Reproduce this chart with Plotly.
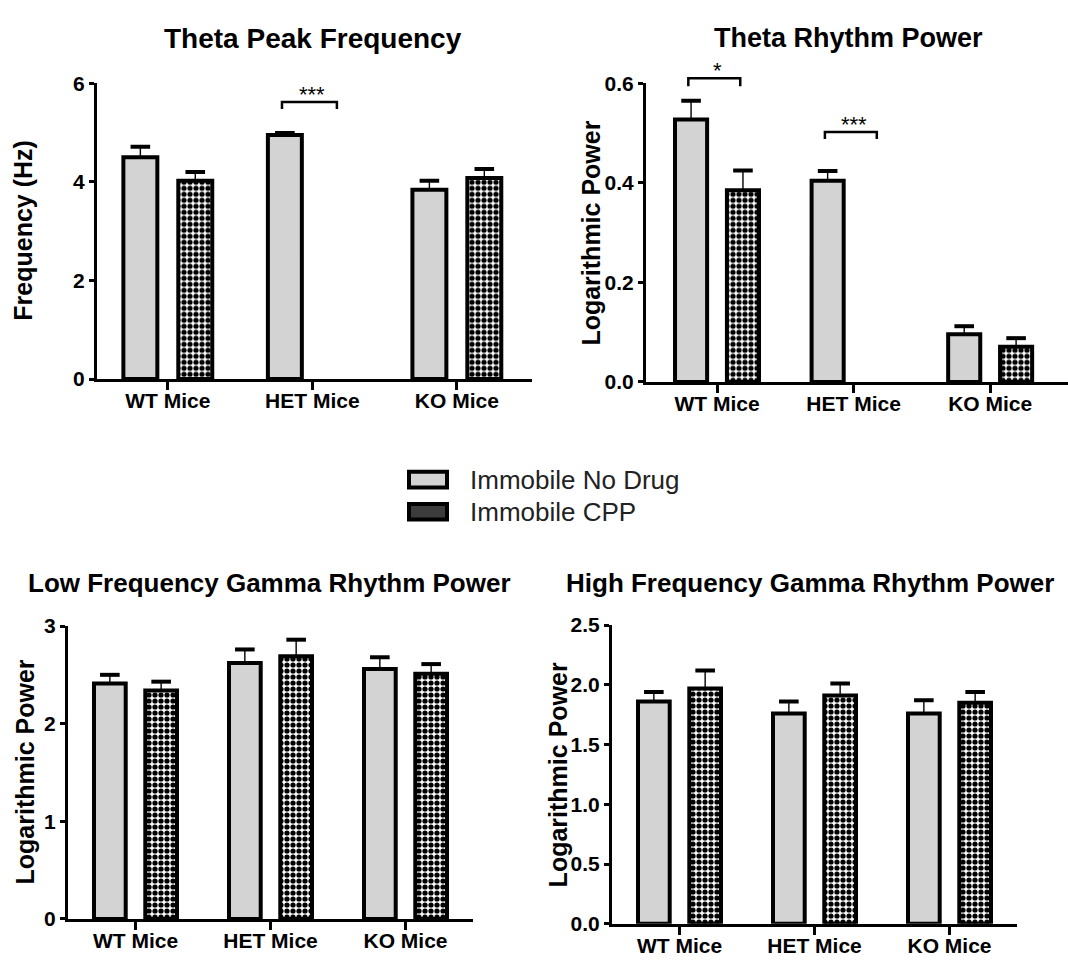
import plotly.graph_objects as go

# ---- data -------------------------------------------------------------
groups = ["WT Mice", "HET Mice", "KO Mice"]
series_names = ["Immobile No Drug", "Immobile CPP"]

# Theta peak frequency (Hz)
theta_freq_nodrug = [4.50, 4.95, 3.84]
theta_freq_nodrug_sem = [0.21, 0.04, 0.18]
theta_freq_cpp = [4.02, None, 4.08]
theta_freq_cpp_sem = [0.18, None, 0.18]

# Theta rhythm power (log)
theta_pow_nodrug = [0.527, 0.404, 0.096]
theta_pow_nodrug_sem = [0.038, 0.020, 0.016]
theta_pow_cpp = [0.385, None, 0.071]
theta_pow_cpp_sem = [0.040, None, 0.017]

# Low frequency gamma power (log)
lgamma_nodrug = [2.41, 2.62, 2.56]
lgamma_nodrug_sem = [0.09, 0.14, 0.12]
lgamma_cpp = [2.34, 2.69, 2.51]
lgamma_cpp_sem = [0.09, 0.17, 0.10]

# High frequency gamma power (log)
hgamma_nodrug = [1.86, 1.76, 1.76]
hgamma_nodrug_sem = [0.08, 0.10, 0.11]
hgamma_cpp = [1.97, 1.91, 1.85]
hgamma_cpp_sem = [0.15, 0.10, 0.09]

# significance brackets: (panel, group, bracket height, leg drop, label)
significance = [
    (0, 1, 5.62, 0.14, "***"),
    (1, 0, 0.610, 0.016, "*"),
    (1, 1, 0.502, 0.014, "***"),
]

# ---- styling ----------------------------------------------------------
W, H = 1068, 966
FONT = "Liberation Sans, Arial, sans-serif"
GRAY = "#d3d3d3"
OFFSET = 0.19     # bar centre offset from group centre
BAR_W = 0.235     # bar width in group units
BRACKET_L, BRACKET_R = -0.21, 0.17


def px_x(p):
    return p / W


def px_y(p):
    return 1 - p / H


panels = [
    dict(title="Theta Peak Frequency", ytitle="Frequency (Hz)", tsize=28,
         nd=theta_freq_nodrug, nd_err=theta_freq_nodrug_sem,
         cpp=theta_freq_cpp, cpp_err=theta_freq_cpp_sem,
         yrange=[0, 6], ytickvals=[0, 2, 4, 6], yfmt="{:.0f}",
         xdom=[97, 532], ydom=[376, 73], xrange=[-0.49, 2.52],
         title_xy=(313, 27), ytitle_xy=(23, 224)),
    dict(title="Theta Rhythm Power", ytitle="Logarithmic Power", tsize=27,
         nd=theta_pow_nodrug, nd_err=theta_pow_nodrug_sem,
         cpp=theta_pow_cpp, cpp_err=theta_pow_cpp_sem,
         yrange=[0, 0.6], ytickvals=[0, 0.2, 0.4, 0.6], yfmt="{:.1f}",
         xdom=[646, 1068], ydom=[379, 73], xrange=[-0.52, 2.57],
         title_xy=(848, 27), ytitle_xy=(591, 227)),
    dict(title="Low Frequency Gamma Rhythm Power", ytitle="Logarithmic Power", tsize=26,
         nd=lgamma_nodrug, nd_err=lgamma_nodrug_sem,
         cpp=lgamma_cpp, cpp_err=lgamma_cpp_sem,
         yrange=[0, 3], ytickvals=[0, 1, 2, 3], yfmt="{:.0f}",
         xdom=[68, 473], ydom=[929, 629], xrange=[-0.5, 2.5],
         title_xy=(269, 585), ytitle_xy=(25, 779)),
    dict(title="High Frequency Gamma Rhythm Power", ytitle="Logarithmic Power", tsize=26,
         nd=hgamma_nodrug, nd_err=hgamma_nodrug_sem,
         cpp=hgamma_cpp, cpp_err=hgamma_cpp_sem,
         yrange=[0, 2.5], ytickvals=[0, 0.5, 1.0, 1.5, 2.0, 2.5], yfmt="{:.1f}",
         xdom=[612, 1017], ydom=[934, 628], xrange=[-0.5, 2.5],
         title_xy=(810, 585), ytitle_xy=(558, 782)),
]


def data_to_paper(p, x, y):
    """Map a data point of panel p to paper coordinates (for marks drawn
    outside the plotting area, which axis-referenced shapes would clip)."""
    x0, x1 = px_x(p["xdom"][0]), px_x(p["xdom"][1])
    y0, y1 = px_y(p["ydom"][0]), px_y(p["ydom"][1])
    xr, yr = p["xrange"], p["yrange"]
    return (x0 + (x - xr[0]) / (xr[1] - xr[0]) * (x1 - x0),
            y0 + (y - yr[0]) / (yr[1] - yr[0]) * (y1 - y0))


fig = go.Figure()
annotations = []
shapes = []

for i, p in enumerate(panels):
    sfx = "" if i == 0 else str(i + 1)
    xa, ya = "x" + sfx, "y" + sfx

    for vals, errs, off, is_cpp in [(p["nd"], p["nd_err"], -OFFSET, False),
                                    (p["cpp"], p["cpp_err"], OFFSET, True)]:
        xs = [g + off for g in range(len(groups))]
        if is_cpp:
            marker = dict(color="white", line=dict(color="black", width=4),
                          pattern=dict(shape=".", fgcolor="black", bgcolor="white",
                                       size=6, solidity=0.6, fillmode="replace"))
        else:
            marker = dict(color=GRAY, line=dict(color="black", width=4))
        fig.add_trace(go.Bar(
            x=xs, y=vals, width=BAR_W, marker=marker,
            name=series_names[1 if is_cpp else 0], showlegend=False,
            error_y=dict(type="data", array=errs,
                         arrayminus=[0 if e is not None else None for e in errs],
                         symmetric=False, color="black", thickness=1.4, width=0),
            xaxis=xa, yaxis=ya,
        ))
        # thick error-bar caps
        caps = [v + e if v is not None and e is not None else None
                for v, e in zip(vals, errs)]
        fig.add_trace(go.Scatter(
            x=xs, y=caps, mode="markers", showlegend=False, hoverinfo="skip",
            marker=dict(symbol="line-ew", size=14,
                        line=dict(color="black", width=4)),
            xaxis=xa, yaxis=ya,
        ))

    fig.layout["xaxis" + sfx] = dict(
        domain=[px_x(p["xdom"][0]), px_x(p["xdom"][1])],
        range=p["xrange"], anchor=ya,
        tickvals=list(range(len(groups))), ticktext=groups,
        showline=True, linecolor="black", linewidth=3,
        ticks="outside", ticklen=8, tickwidth=3, tickcolor="black",
        ticklabelstandoff=-7,
        showgrid=False, zeroline=False,
        tickfont=dict(family=FONT, size=21, color="black", weight="bold"),
    )
    fig.layout["yaxis" + sfx] = dict(
        domain=[px_y(p["ydom"][0]), px_y(p["ydom"][1])],
        range=p["yrange"], anchor=xa,
        tickvals=p["ytickvals"],
        ticktext=[p["yfmt"].format(v) for v in p["ytickvals"]],
        showline=True, linecolor="black", linewidth=3,
        ticks="outside", ticklen=5, tickwidth=3, tickcolor="black",
        showgrid=False, zeroline=False,
        tickfont=dict(family=FONT, size=21, color="black", weight="bold"),
    )

    annotations.append(dict(
        text=p["title"], xref="paper", yref="paper",
        x=px_x(p["title_xy"][0]), y=px_y(p["title_xy"][1]),
        xanchor="center", yanchor="middle", showarrow=False,
        font=dict(family=FONT, size=p["tsize"], color="black", weight="bold"),
    ))
    annotations.append(dict(
        text=p["ytitle"], xref="paper", yref="paper", textangle=-90,
        x=px_x(p["ytitle_xy"][0]), y=px_y(p["ytitle_xy"][1]),
        xanchor="center", yanchor="middle", showarrow=False,
        font=dict(family=FONT, size=25, color="black", weight="bold"),
    ))

# significance brackets
for pi, g, h, drop, label in significance:
    p = panels[pi]
    xl, yb = data_to_paper(p, g + BRACKET_L, h - drop)
    xr, yt = data_to_paper(p, g + BRACKET_R, h)
    xc, _ = data_to_paper(p, g, h)
    shapes.append(dict(
        type="path", xref="paper", yref="paper",
        path=f"M {xl},{yb} L {xl},{yt} L {xr},{yt} L {xr},{yb}",
        line=dict(color="black", width=2.5),
    ))
    annotations.append(dict(
        text=label, xref="paper", yref="paper", x=xc, y=yt,
        xanchor="center", yanchor="bottom", yshift=-7, showarrow=False,
        font=dict(family=FONT, size=22, color="black"),
    ))

# legend
legend_rows = [(series_names[0], GRAY, 479), (series_names[1], "#3c3c3c", 512)]
for name, fill, yc in legend_rows:
    shapes.append(dict(
        type="rect", xref="paper", yref="paper",
        x0=px_x(409), x1=px_x(447), y0=px_y(yc - 8), y1=px_y(yc + 8),
        fillcolor=fill, line=dict(color="black", width=4),
    ))
    annotations.append(dict(
        text=name, xref="paper", yref="paper", x=px_x(468), y=px_y(yc),
        xanchor="left", yanchor="middle", showarrow=False,
        font=dict(family=FONT, size=26, color="#222222"),
    ))

fig.update_layout(
    width=W, height=H, margin=dict(l=0, r=0, t=0, b=0),
    paper_bgcolor="white", plot_bgcolor="white",
    barmode="overlay", showlegend=False,
    annotations=annotations, shapes=shapes,
)

fig.write_html("out.html")
